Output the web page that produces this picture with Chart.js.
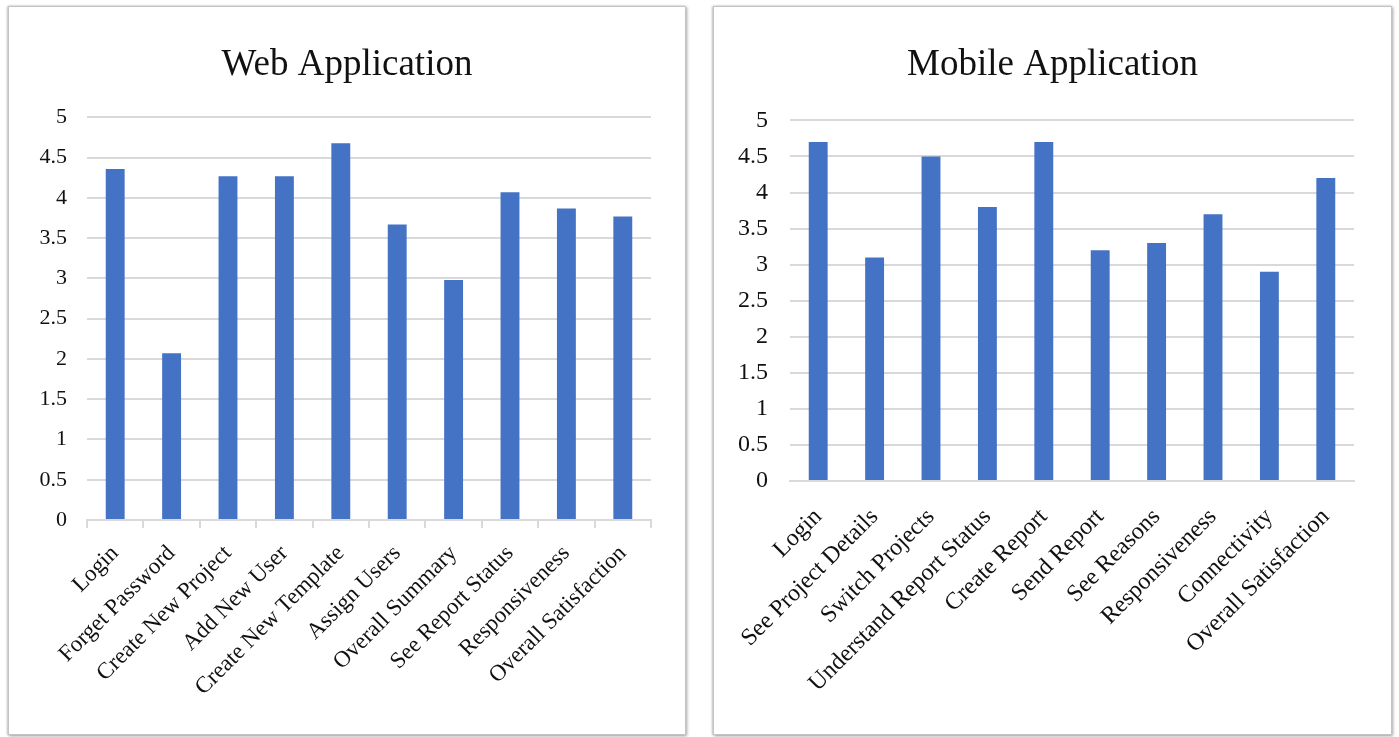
<!DOCTYPE html>
<html>
<head>
<meta charset="utf-8">
<script src="https://cdn.jsdelivr.net/npm/chart.js@4.4.0/dist/chart.umd.min.js"></script>
<style>
  html, body { margin: 0; padding: 0; background: #ffffff; width: 1399px; height: 737px; overflow: hidden; }
  .panel { position: absolute; top: 6px; height: 727px; border: 1px solid #c4c4c4; background: #fff;
           box-shadow: 1px 1px 3px rgba(0,0,0,0.35), -1px 0 2px rgba(0,0,0,0.2); }
  #p1 { left: 8px; width: 676px; }
  #p2 { left: 713px; width: 677px; }
  canvas { display: block; }
</style>
</head>
<body>
<div class="panel" id="p1"><canvas id="web" width="676" height="727"></canvas></div>
<div class="panel" id="p2"><canvas id="mobile" width="677" height="727"></canvas></div>
<script>
const webCategories = ["Login", "Forget Password", "Create New Project", "Add New User", "Create New Template",
  "Assign Users", "Overall Summary", "See Report Status", "Responsiveness", "Overall Satisfaction"];
const webValues = [4.36, 2.07, 4.27, 4.27, 4.68, 3.67, 2.98, 4.07, 3.87, 3.77];

const mobileCategories = ["Login", "See Project Details", "Switch Projects", "Understand Report Status", "Create Report",
  "Send Report", "See Reasons", "Responsiveness", "Connectivity", "Overall Satisfaction"];
const mobileValues = [4.7, 3.1, 4.5, 3.8, 4.7, 3.2, 3.3, 3.7, 2.9, 4.2];

const yMin = 0, yMax = 5, yStep = 0.5;

const SERIF = "'Liberation Serif', 'Times New Roman', serif";
const BAR = '#4472C4';
const GRID = '#d9d9d9';
const TEXT = '#111111';

function makeChart(id, title, cats, vals, cfg) {
  return new Chart(document.getElementById(id), {
    type: 'bar',
    data: {
      labels: cats,
      datasets: [{ data: vals, backgroundColor: BAR, borderWidth: 0,
                   barPercentage: 0.335, categoryPercentage: 1.0, yAxisID: 'y' }]
    },
    options: {
      responsive: false,
      animation: false,
      layout: { padding: 0 },
      plugins: {
        legend: { display: false },
        tooltip: { enabled: false },
        title: { display: true, text: title, color: TEXT,
                 font: { family: SERIF, size: 37, weight: 'normal' },
                 padding: { top: cfg.titleTop, bottom: cfg.titleBottom } }
      },
      scales: {
        x: {
          grid: { display: true, drawOnChartArea: false, drawTicks: cfg.xTicks, tickLength: 8,
                  color: GRID, lineWidth: 2, offset: true },
          border: { display: true, color: GRID, width: 2 },
          ticks: { color: TEXT, font: { family: SERIF, size: cfg.xSize }, minRotation: 45, maxRotation: 45,
                   padding: cfg.xPad, autoSkip: false },
          afterFit: (s) => { s.height = cfg.xHeight; }
        },
        y: {
          min: yMin, max: yMax,
          grid: { color: GRID, lineWidth: 2, drawTicks: false },
          border: { display: false },
          ticks: { stepSize: yStep, color: TEXT, font: { family: SERIF, size: cfg.ySize }, padding: cfg.yPad,
                   callback: (v) => String(Math.round(v * 10) / 10) },
          afterFit: (s) => { s.width = cfg.yWidth; }
        },
        spacer: {
          type: 'linear', position: 'right', display: true,
          grid: { display: false }, border: { display: false },
          ticks: { display: false },
          afterFit: (s) => { s.width = cfg.padRight; }
        }
      }
    }
  });
}

makeChart('web', 'Web Application', webCategories, webValues,
  { padRight: 34, titleTop: 36, titleBottom: 30, xTicks: true, xPad: 12, xSize: 23, xHeight: 214,
    yWidth: 78, yPad: 20, ySize: 22 });
makeChart('mobile', 'Mobile Application', mobileCategories, mobileValues,
  { padRight: 37, titleTop: 36, titleBottom: 33, xTicks: false, xPad: 22, xSize: 24, xHeight: 253,
    yWidth: 76, yPad: 22, ySize: 24 });
</script>
</body>
</html>
